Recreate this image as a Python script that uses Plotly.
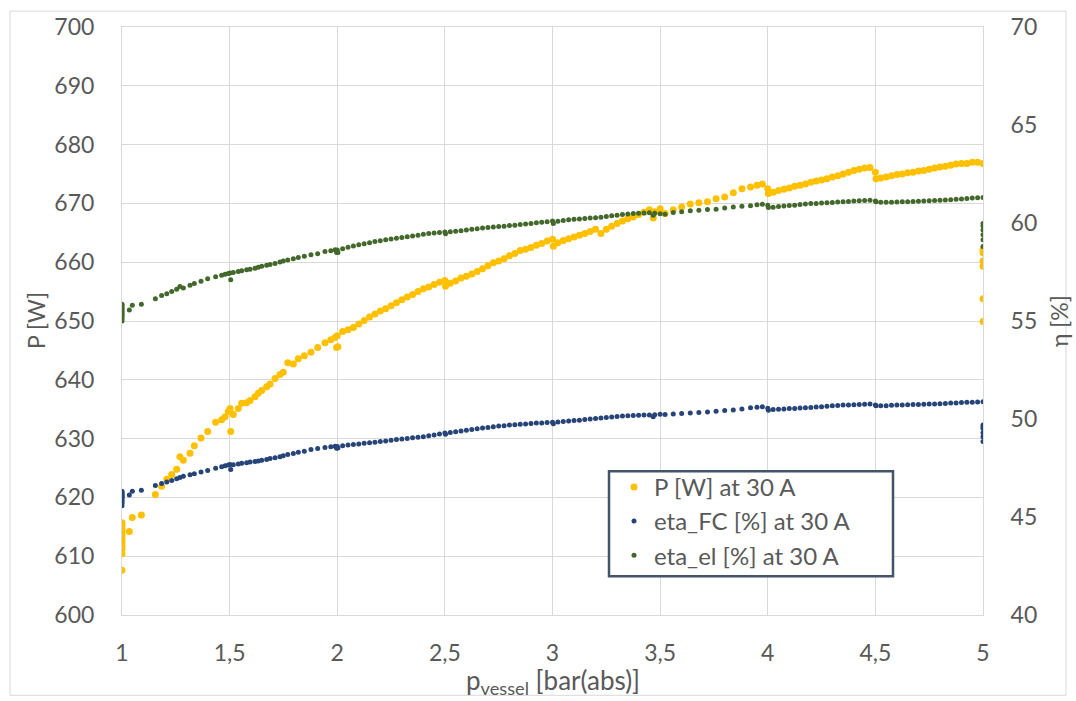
import plotly.graph_objects as go

# ---------------- data ----------------
p_vessel = [
    # cluster at 1 bar
    1.0, 1.0, 1.0, 1.0, 1.0, 1.0, 1.0, 1.0, 1.0, 1.0, 1.0, 1.0,
    # 1 .. 2 bar
    1.034, 1.048, 1.09, 1.155, 1.184, 1.208, 1.231, 1.254, 1.269, 1.285,
    1.316, 1.336, 1.367, 1.398, 1.435, 1.463, 1.479, 1.494, 1.502, 1.505,
    1.517, 1.54, 1.556, 1.579, 1.595, 1.618, 1.633, 1.649, 1.672, 1.688,
    1.711, 1.734, 1.749, 1.77, 1.796, 1.819, 1.847, 1.878, 1.909, 1.943,
    1.97, 1.99, 1.997,
    # 2 .. 3.5 bar
    2.0, 2.025, 2.05, 2.075, 2.1, 2.125, 2.15, 2.175, 2.2, 2.225,
    2.25, 2.275, 2.3, 2.325, 2.35, 2.375, 2.4, 2.425, 2.45, 2.475,
    2.5, 2.525, 2.55, 2.575, 2.6, 2.625, 2.65, 2.675, 2.7, 2.725,
    2.75, 2.775, 2.8, 2.825, 2.85, 2.875, 2.9, 2.925, 2.95, 2.975,
    3.0, 3.025, 3.05, 3.075, 3.1, 3.125, 3.15, 3.175, 3.2, 3.225,
    3.25, 3.275, 3.3, 3.325, 3.35, 3.375, 3.4, 3.425, 3.45, 3.475,
    3.5,
    # 3.5 .. 4 bar
    3.523, 3.561, 3.6, 3.64, 3.68, 3.72, 3.76, 3.8, 3.84, 3.88,
    3.92, 3.95, 3.975,
    # 4 .. 5 bar
    4.0, 4.025, 4.05, 4.075, 4.1, 4.125, 4.15, 4.175, 4.2, 4.225,
    4.25, 4.275, 4.3, 4.325, 4.35, 4.375, 4.4, 4.425, 4.45, 4.475,
    4.5, 4.525, 4.55, 4.575, 4.6, 4.625, 4.65, 4.675, 4.7, 4.725,
    4.75, 4.775, 4.8, 4.825, 4.85, 4.875, 4.9, 4.925, 4.95, 4.975,
    5.0,
    # drop at 5 bar
    5.0, 5.0, 5.0, 5.0, 5.0, 5.0,
    # dips at each pressure step
    2.003, 2.503, 3.004, 3.468, 4.003, 4.503,
]

P_W = [
    615.7, 615.2, 614.7, 614.2, 613.7, 613.2, 612.7, 612.2, 611.7, 611.2, 610.4, 607.6,
    614.2, 616.6, 617.0, 620.5, 621.9, 623.1, 623.9, 624.8, 626.9, 626.3,
    627.5, 628.8, 630.1, 631.2, 632.8, 633.2, 633.7, 634.6, 635.1, 631.2,
    634.1, 635.1, 636.0, 636.1, 636.5, 637.1, 637.7, 638.2, 638.8, 639.3,
    640.2, 640.9, 641.3, 642.9, 642.7, 643.6, 644.1, 644.7, 645.5, 646.3,
    646.8, 647.2, 645.5,
    647.5, 648.2, 648.5, 648.9, 649.5, 650.1, 650.7, 651.2, 651.7, 652.1,
    652.6, 653.1, 653.6, 654.1, 654.5, 655.0, 655.5, 655.8, 656.2, 656.6,
    656.9, 656.4, 656.8, 657.3, 657.6, 658.0, 658.4, 658.9, 659.4, 659.9,
    660.2, 660.6, 661.1, 661.5, 662.0, 662.2, 662.5, 662.9, 663.2, 663.6,
    663.9, 663.3, 663.7, 664.0, 664.3, 664.6, 664.9, 665.2, 665.6, 664.9,
    665.6, 666.1, 666.6, 667.0, 667.4, 667.7, 668.1, 668.5, 668.9, 668.6,
    669.1,
    668.3, 668.9, 669.4, 669.9, 670.1, 670.3, 670.8, 671.1, 671.8, 672.5,
    672.8, 673.1, 673.3,
    672.5, 671.9, 672.2, 672.4, 672.6, 672.9, 673.1, 673.3, 673.6, 673.8,
    674.0, 674.2, 674.5, 674.7, 675.0, 675.3, 675.6, 675.8, 676.0, 676.1,
    675.3, 674.3, 674.5, 674.7, 674.9, 675.0, 675.2, 675.3, 675.5, 675.6,
    675.8, 676.0, 676.2, 676.3, 676.5, 676.7, 676.8, 676.8, 677.0, 677.0,
    676.8,
    662.1, 661.6, 660.2, 659.3, 653.8, 649.9,
    645.6, 655.9, 662.7, 667.5, 671.7, 674.2,
]

eta_FC = [
    46.32, 46.25, 46.2, 46.15, 46.1, 46.05, 46.0, 45.95, 45.85, 45.78, 45.7, 45.58,
    46.12, 46.32, 46.37, 46.61, 46.71, 46.79, 46.86, 46.95, 47.02, 47.08,
    47.15, 47.21, 47.30, 47.37, 47.49, 47.57, 47.61, 47.65, 47.68, 47.42,
    47.67, 47.71, 47.74, 47.77, 47.80, 47.83, 47.86, 47.89, 47.94, 47.98,
    48.02, 48.08, 48.12, 48.19, 48.24, 48.30, 48.36, 48.44, 48.50, 48.55,
    48.58, 48.61, 48.51,
    48.60, 48.63, 48.67, 48.70, 48.73, 48.76, 48.79, 48.82, 48.85, 48.88,
    48.91, 48.95, 48.98, 49.01, 49.04, 49.07, 49.10, 49.14, 49.18, 49.24,
    49.28, 49.31, 49.35, 49.39, 49.42, 49.46, 49.50, 49.54, 49.57, 49.61,
    49.64, 49.66, 49.69, 49.71, 49.73, 49.75, 49.77, 49.79, 49.80, 49.82,
    49.84, 49.85, 49.87, 49.90, 49.92, 49.94, 49.97, 50.00, 50.02, 50.05,
    50.08, 50.10, 50.13, 50.15, 50.17, 50.18, 50.19, 50.20, 50.21, 50.22,
    50.24,
    50.23, 50.26, 50.28, 50.30, 50.33, 50.36, 50.40, 50.43, 50.46, 50.51,
    50.57, 50.60, 50.62,
    50.55, 50.48, 50.50, 50.51, 50.53, 50.54, 50.56, 50.58, 50.59, 50.61,
    50.63, 50.65, 50.67, 50.69, 50.71, 50.72, 50.73, 50.74, 50.75, 50.76,
    50.72, 50.67, 50.68, 50.70, 50.71, 50.72, 50.73, 50.74, 50.74, 50.75,
    50.76, 50.77, 50.78, 50.79, 50.81, 50.82, 50.84, 50.85, 50.86, 50.87,
    50.88,
    49.70, 49.60, 49.52, 49.30, 49.10, 48.85,
    48.52, 49.22, 49.76, 50.12, 50.45, 50.67,
]

eta_el = [
    55.85, 55.8, 55.72, 55.65, 55.58, 55.5, 55.42, 55.35, 55.28, 55.2, 55.1, 55.0,
    55.56, 55.80, 55.85, 56.14, 56.30, 56.39, 56.50, 56.62, 56.76, 56.69,
    56.82, 56.91, 57.03, 57.15, 57.26, 57.34, 57.38, 57.42, 57.45, 57.11,
    57.48, 57.53, 57.57, 57.61, 57.64, 57.69, 57.74, 57.79, 57.84, 57.88,
    57.93, 58.01, 58.06, 58.11, 58.18, 58.24, 58.30, 58.38, 58.43, 58.54,
    58.59, 58.63, 58.50,
    58.62, 58.68, 58.76, 58.83, 58.89, 58.94, 58.99, 59.05, 59.10, 59.14,
    59.18, 59.22, 59.26, 59.30, 59.34, 59.38, 59.42, 59.46, 59.49, 59.52,
    59.54, 59.55, 59.58, 59.61, 59.64, 59.68, 59.71, 59.74, 59.77, 59.80,
    59.82, 59.84, 59.87, 59.89, 59.92, 59.95, 59.98, 60.01, 60.04, 60.07,
    60.10, 60.09, 60.13, 60.16, 60.19, 60.21, 60.23, 60.25, 60.27, 60.29,
    60.33, 60.37, 60.40, 60.43, 60.46, 60.49, 60.50, 60.51, 60.52, 60.50,
    60.47,
    60.45, 60.54, 60.58, 60.62, 60.65, 60.69, 60.70, 60.76, 60.82, 60.86,
    60.88, 60.93, 60.96,
    60.90, 60.80, 60.84, 60.87, 60.89, 60.91, 60.94, 60.97, 60.99, 61.00,
    61.02, 61.03, 61.05, 61.07, 61.08, 61.10, 61.12, 61.13, 61.15, 61.16,
    61.12, 61.06, 61.06, 61.06, 61.07, 61.08, 61.09, 61.10, 61.11, 61.12,
    61.14, 61.15, 61.16, 61.17, 61.19, 61.21, 61.23, 61.25, 61.27, 61.29,
    61.30,
    59.98, 59.85, 59.64, 59.40, 59.14, 58.80,
    58.50, 59.45, 59.98, 60.40, 60.79, 61.08,
]

series_names = ["P [W] at 30 A", "eta_FC [%] at 30 A", "eta_el [%] at 30 A"]
x_ticks = [1, 1.5, 2, 2.5, 3, 3.5, 4, 4.5, 5]
x_tick_labels = ["1", "1,5", "2", "2,5", "3", "3,5", "4", "4,5", "5"]
P_ticks = [600, 610, 620, 630, 640, 650, 660, 670, 680, 690, 700]
eta_ticks = [40, 45, 50, 55, 60, 65, 70]

assert len(p_vessel) == len(P_W) == len(eta_FC) == len(eta_el)

# ---------------- styling ----------------
FONT = "Lato"
FS = 23
FS_LEG = 24
FS_XT = 26
TXT = "#595959"
GRID = "#D9D9D9"
C_P = "#FFC000"
C_FC = "#264478"
C_EL = "#43682B"

W, H = 1076, 701
L, R, T, B = 122, 93, 22, 86
pw, ph = W - L - R, H - T - B


def px(x):
    return (x - L) / pw


def py(y):
    return (H - B - y) / ph


fig = go.Figure()
fig.add_trace(go.Scatter(x=p_vessel, y=P_W, mode="markers", name=series_names[0],
                         marker=dict(color=C_P, size=7), legendgroup="a",
                         yaxis="y"))
fig.add_trace(go.Scatter(x=p_vessel, y=eta_FC, mode="markers", name=series_names[1],
                         marker=dict(color=C_FC, size=5), legendgroup="b",
                         yaxis="y2"))
fig.add_trace(go.Scatter(x=p_vessel, y=eta_el, mode="markers", name=series_names[2],
                         marker=dict(color=C_EL, size=5), legendgroup="c",
                         yaxis="y2"))

fig.update_layout(
    width=W, height=H,
    margin=dict(l=L, r=R, t=T, b=B, pad=0),
    paper_bgcolor="white", plot_bgcolor="white",
    font=dict(family=FONT, size=FS, color=TXT),
    showlegend=True,
    legend=dict(x=px(614), y=py(463.5), xanchor="left", yanchor="top",
                bgcolor="rgba(0,0,0,0)", borderwidth=0,
                font=dict(family=FONT, size=FS_LEG, color=TXT),
                tracegroupgap=0, itemsizing="trace"),
    xaxis=dict(range=[1, 5], tickvals=x_ticks, ticktext=x_tick_labels,
               showgrid=True, gridcolor=GRID, gridwidth=1, zeroline=False,
               showline=True, linecolor=GRID, linewidth=1, mirror=True,
               ticks="outside", ticklen=17, tickcolor="rgba(0,0,0,0)",
               tickfont=dict(family=FONT, size=FS, color=TXT)),
    yaxis=dict(range=[600, 700], tickvals=P_ticks,
               showgrid=True, gridcolor=GRID, gridwidth=1, zeroline=False,
               showline=True, linecolor=GRID, linewidth=1, mirror=True,
               ticks="outside", ticklen=22, tickcolor="rgba(0,0,0,0)",
               tickfont=dict(family=FONT, size=FS, color=TXT)),
    yaxis2=dict(range=[40, 70], tickvals=eta_ticks, overlaying="y", side="right",
                showgrid=False, zeroline=False, showline=False,
                ticks="outside", ticklen=22, tickcolor="rgba(0,0,0,0)",
                tickfont=dict(family=FONT, size=FS, color=TXT)),
    shapes=[
        dict(type="rect", xref="paper", yref="paper",
             x0=px(10), x1=px(1066), y0=py(696), y1=py(6),
             line=dict(color=GRID, width=1), fillcolor="rgba(0,0,0,0)",
             layer="below"),
        dict(type="rect", xref="paper", yref="paper",
             x0=px(609), x1=px(893), y0=py(576), y1=py(470),
             line=dict(color="#44546A", width=2.5), fillcolor="white",
             layer="above"),
    ],
    annotations=[
        dict(text="P [W]", xref="paper", yref="paper", x=px(36), y=0.5,
             xanchor="center", yanchor="middle", textangle=-90, showarrow=False,
             font=dict(family=FONT, size=FS, color=TXT)),
        dict(text="η [%]", xref="paper", yref="paper", x=px(1059), y=0.5,
             xanchor="center", yanchor="middle", textangle=-90, showarrow=False,
             font=dict(family=FONT, size=FS, color=TXT)),
        dict(text="p<sub>vessel</sub> [bar(abs)]", xref="paper", yref="paper",
             x=0.5, y=py(682), xanchor="center", yanchor="middle",
             showarrow=False, font=dict(family=FONT, size=FS_XT, color=TXT)),
    ],
)

fig.write_html("out.html",
               config={"displayModeBar": False},
               post_script="document.body.style.margin='0';"
                           "document.body.style.padding='0';")
